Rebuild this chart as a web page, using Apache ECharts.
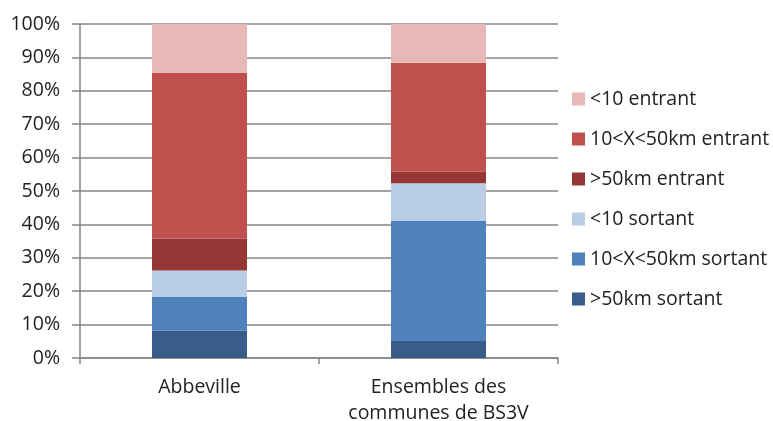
<!DOCTYPE html>
<html>
<head>
<meta charset="utf-8">
<script src="https://cdn.jsdelivr.net/npm/echarts@6/dist/echarts.min.js"></script>
<style>
  html, body { margin: 0; padding: 0; background: #fff; }
  #chart { width: 773px; height: 421px; }
</style>
</head>
<body>
<div id="chart"></div>
<script>
var categories = ['Abbeville', 'Ensembles des\ncommunes de BS3V'];
var seriesNames = ['>50km sortant', '10<X<50km sortant', '<10 sortant', '>50km entrant', '10<X<50km entrant', '<10 entrant'];
var sortant50 = [8.2, 5.3];
var sortant10_50 = [10.1, 35.7];
var sortant10 = [7.9, 11.3];
var entrant50 = [9.6, 3.5];
var entrant10_50 = [49.6, 32.6];
var entrant10 = [14.6, 11.6];
var colors = ['#385D8A', '#4F81BD', '#B9CDE5', '#953735', '#C0504D', '#E6B9B8'];

var myChart = echarts.init(document.getElementById('chart'));
var font = 'Open Sans';
var values = [sortant50, sortant10_50, sortant10, entrant50, entrant10_50, entrant10];

var series = [];
for (var i = 0; i < seriesNames.length; i++) {
	series.push({
		name: seriesNames[i],
		type: 'bar',
		stack: 'total',
		barWidth: 95,
		itemStyle: { color: colors[i] },
		data: values[i]
	});
}

var option = {
	animation: false,
	color: colors,
	grid: {
		left: 80,
		right: 215,
		top: 24,
		bottom: 63,
		containLabel: false,
		outerBoundsMode: 'none'
	},
	legend: {
		orient: 'vertical',
		left: 567,
		top: 84,
		itemWidth: 13,
		itemHeight: 13,
		itemGap: 20,
		icon: 'rect',
		textStyle: { fontFamily: font, fontSize: 19.5, lineHeight: 20, color: '#222' },
		data: seriesNames.slice().reverse()
	},
	xAxis: {
		type: 'category',
		data: categories,
		axisLine: { lineStyle: { color: '#868686', width: 1.5 } },
		axisTick: { show: true, length: 6, lineStyle: { color: '#868686', width: 1.5 } },
		axisLabel: {
			fontFamily: font, fontSize: 19.5, color: '#222',
			margin: 16, lineHeight: 26
		}
	},
	yAxis: {
		type: 'value',
		min: 0,
		max: 100,
		interval: 10,
		axisLine: { show: true, lineStyle: { color: '#868686', width: 1.5 } },
		axisTick: { show: true, length: 8, lineStyle: { color: '#868686', width: 1.5 } },
		splitLine: { lineStyle: { color: '#868686', width: 1.5 } },
		axisLabel: {
			fontFamily: font, fontSize: 19.5, color: '#222',
			margin: 20,
			formatter: '{value}%'
		}
	},
	series: series
};
myChart.setOption(option);
</script>
</body>
</html>
